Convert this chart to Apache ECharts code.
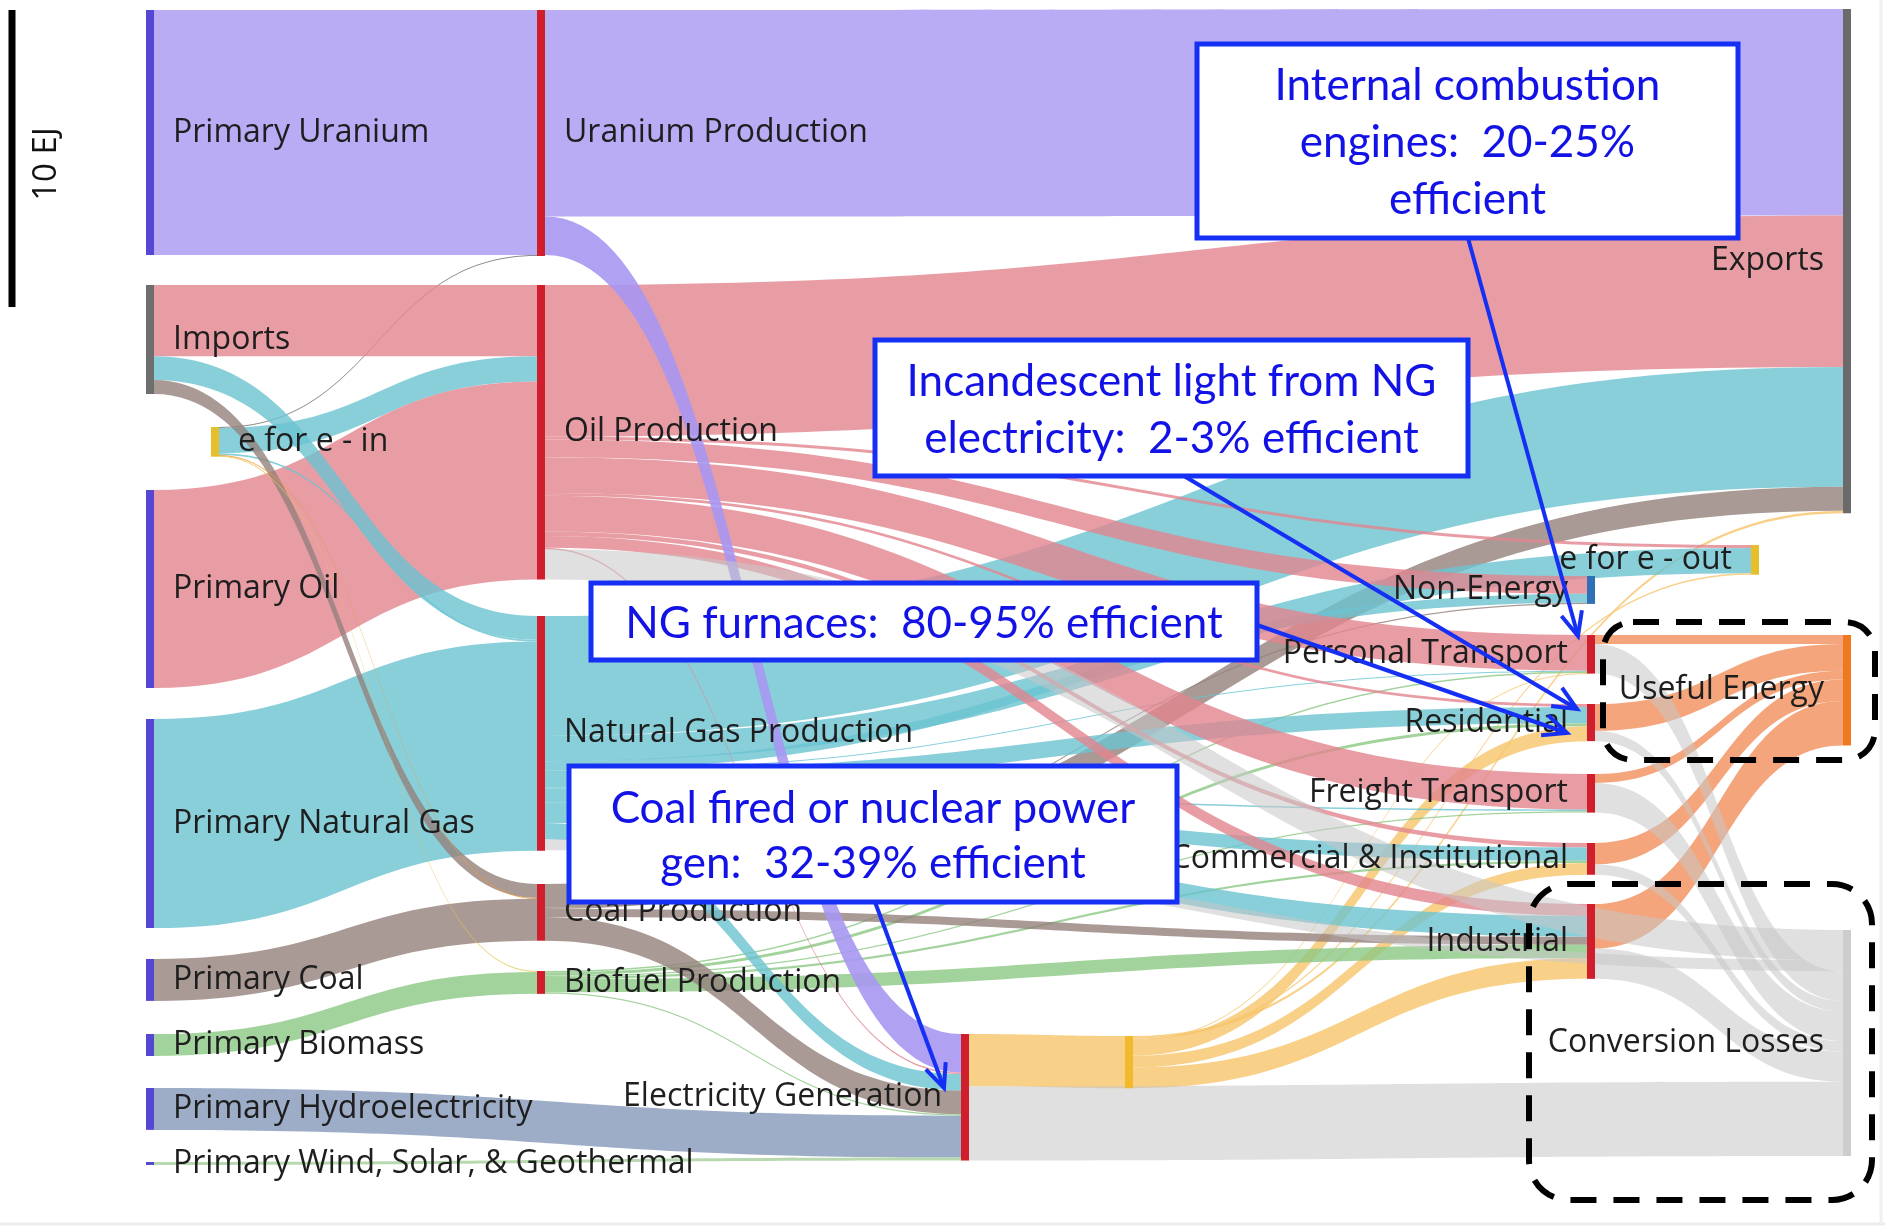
<!DOCTYPE html>
<html>
<head>
<meta charset="utf-8">
<title>Energy flows</title>
<script src="https://cdn.jsdelivr.net/npm/echarts@6/dist/echarts.min.js"></script>
<style>
  html, body { margin: 0; padding: 0; background: #fff; }
  #main { width: 1885px; height: 1231px; }
</style>
</head>
<body>
<div id="main"></div>
<script>
// flows in EJ
const nodeNames = [
  'Primary Uranium', 'Imports', 'e for e - in', 'Primary Oil', 'Primary Natural Gas',
  'Primary Coal', 'Primary Biomass', 'Primary Hydroelectricity', 'Primary Wind, Solar, & Geothermal',
  'Uranium Production', 'Oil Production', 'Natural Gas Production', 'Coal Production',
  'Biofuel Production', 'Electricity Generation', 'Electricity',
  'Exports', 'e for e - out', 'Non-Energy', 'Personal Transport', 'Residential',
  'Freight Transport', 'Commercial & Institutional', 'Industrial',
  'Useful Energy', 'Conversion Losses'
]

// grouped by target, each group listed top to bottom
const flowSource = [
  'Primary Uranium', 'e for e - in',
  'Imports', 'e for e - in', 'Primary Oil',
  'Imports', 'e for e - in', 'Primary Natural Gas',
  'Imports', 'e for e - in', 'Primary Coal',
  'e for e - in', 'Primary Biomass',
  'Uranium Production', 'Oil Production', 'Natural Gas Production', 'Coal Production', 'Electricity',
  'Oil Production', 'Natural Gas Production', 'Electricity',
  'Oil Production', 'Natural Gas Production', 'Coal Production',
  'Oil Production', 'Natural Gas Production', 'Biofuel Production', 'Electricity',
  'Oil Production', 'Natural Gas Production', 'Biofuel Production', 'Electricity',
  'Oil Production', 'Natural Gas Production', 'Biofuel Production',
  'Oil Production', 'Natural Gas Production', 'Biofuel Production', 'Electricity',
  'Oil Production', 'Natural Gas Production', 'Coal Production', 'Biofuel Production', 'Electricity',
  'Uranium Production', 'Oil Production', 'Natural Gas Production', 'Coal Production',
  'Biofuel Production', 'Primary Hydroelectricity', 'Primary Wind, Solar, & Geothermal',
  'Electricity Generation',
  'Personal Transport', 'Residential', 'Freight Transport', 'Commercial & Institutional', 'Industrial',
  'Oil Production', 'Natural Gas Production', 'Personal Transport', 'Residential',
  'Freight Transport', 'Commercial & Institutional', 'Industrial', 'Electricity Generation'
]
const flowTarget = [
  'Uranium Production', 'Uranium Production',
  'Oil Production', 'Oil Production', 'Oil Production',
  'Natural Gas Production', 'Natural Gas Production', 'Natural Gas Production',
  'Coal Production', 'Coal Production', 'Coal Production',
  'Biofuel Production', 'Biofuel Production',
  'Exports', 'Exports', 'Exports', 'Exports', 'Exports',
  'e for e - out', 'e for e - out', 'e for e - out',
  'Non-Energy', 'Non-Energy', 'Non-Energy',
  'Personal Transport', 'Personal Transport', 'Personal Transport', 'Personal Transport',
  'Residential', 'Residential', 'Residential', 'Residential',
  'Freight Transport', 'Freight Transport', 'Freight Transport',
  'Commercial & Institutional', 'Commercial & Institutional', 'Commercial & Institutional', 'Commercial & Institutional',
  'Industrial', 'Industrial', 'Industrial', 'Industrial', 'Industrial',
  'Electricity Generation', 'Electricity Generation', 'Electricity Generation', 'Electricity Generation',
  'Electricity Generation', 'Electricity Generation', 'Electricity Generation',
  'Electricity',
  'Useful Energy', 'Useful Energy', 'Useful Energy', 'Useful Energy', 'Useful Energy',
  'Conversion Losses', 'Conversion Losses', 'Conversion Losses', 'Conversion Losses',
  'Conversion Losses', 'Conversion Losses', 'Conversion Losses', 'Conversion Losses'
]
const flowEJ = [
  8.25, 0.03,
  2.4, 0.85, 6.67,
  0.8, 0.06, 7.04,
  0.47, 0.03, 1.41,
  0.03, 0.74,
  6.95, 5.1, 4.04, 0.8, 0.09,
  0.1, 0.85, 0.05,
  0.6, 0.3, 0.04,
  1.2, 0.03, 0.05, 0.02,
  0.1, 0.55, 0.1, 0.5,
  1.2, 0.05, 0.05,
  0.15, 0.45, 0.07, 0.4,
  0.4, 0.7, 0.27, 0.45, 0.7,
  1.3, 0.05, 0.55, 0.8, 0.05, 1.41, 0.1,
  1.76,
  0.3, 0.9, 0.3, 0.72, 1.5,
  1.02, 0.37, 1.0, 0.35, 1.0, 0.35, 1.02, 2.5
]

const scaleBarEJ = 10
const scaleBarLabel = '10 EJ'

// layout: pixel position of each node's top-left corner
const VIEW_W = 1885, VIEW_H = 1231, PX_PER_EJ = 29.7
const nodeXY = {
  'Primary Uranium': [146, 10],
  'Imports': [146, 285],
  'e for e - in': [211, 427],
  'Primary Oil': [146, 490],
  'Primary Natural Gas': [146, 719],
  'Primary Coal': [146, 959],
  'Primary Biomass': [146, 1034],
  'Primary Hydroelectricity': [146, 1088],
  'Primary Wind, Solar, & Geothermal': [146, 1162],
  'Uranium Production': [537, 10],
  'Oil Production': [537, 285],
  'Natural Gas Production': [537, 616],
  'Coal Production': [537, 884],
  'Biofuel Production': [537, 971],
  'Electricity Generation': [961, 1034],
  'Electricity': [1125, 1036],
  'Exports': [1843, 9],
  'e for e - out': [1751, 545],
  'Non-Energy': [1587, 576],
  'Personal Transport': [1587, 635],
  'Residential': [1587, 704],
  'Freight Transport': [1587, 774],
  'Commercial & Institutional': [1587, 843],
  'Industrial': [1587, 904],
  'Useful Energy': [1843, 635],
  'Conversion Losses': [1843, 930]
}

const RED = '#d01e2c'
const nodeColor = {
  'Imports': '#6e6e6e', 'e for e - in': '#e6c02c', 'e for e - out': '#e6c02c',
  'Electricity': '#f2b92c', 'Exports': '#6a6a6a', 'Non-Energy': '#2f70b6',
  'Useful Energy': '#f07820', 'Conversion Losses': '#cdcdcd'
}
const leftLabel = ['Electricity Generation', 'Exports', 'e for e - out', 'Non-Energy',
  'Personal Transport', 'Residential', 'Freight Transport', 'Commercial & Institutional',
  'Industrial', 'Useful Energy', 'Conversion Losses']

const C = {
  uranium: '#a797f2', oil: '#e2848f', gas: '#6cc3d1', coal: '#93817c', bio: '#8cc883',
  hydro: '#8698b9', wind: '#a6cf9c', elec: '#f6c46a', useful: '#f28e5a', loss: '#c6c6c6'
}
function linkColor (s, t) {
  if (t === 'Conversion Losses') return C.loss
  if (t === 'Useful Energy') return C.useful
  if (s === 'e for e - in') {
    return { 'Uranium Production': '#6f6f6f', 'Coal Production': '#ee9a3a', 'Biofuel Production': '#e7c64a' }[t] || C.gas
  }
  if (s === 'Imports') return { 'Oil Production': C.oil, 'Natural Gas Production': C.gas }[t] || C.coal
  if (/Uranium/.test(s)) return C.uranium
  if (/Oil/.test(s)) return C.oil
  if (/Natural Gas/.test(s)) return C.gas
  if (/Coal/.test(s)) return C.coal
  if (/Bio/.test(s)) return C.bio
  if (/Hydro/.test(s)) return C.hydro
  if (/Wind/.test(s)) return C.wind
  return C.elec
}

const nodes = nodeNames.map(function (name, i) {
  const col = nodeColor[name] || (/^Primary/.test(name) ? '#5646d4' : RED)
  return {
    name: name,
    depth: i,
    localX: nodeXY[name][0] / VIEW_W,
    localY: nodeXY[name][1] / VIEW_H,
    itemStyle: { color: col, borderWidth: 0 },
    label: {
      show: name !== 'Electricity',
      position: leftLabel.indexOf(name) >= 0 ? 'left' : 'right'
    }
  }
})
// invisible node that fixes the px-per-EJ scale of the whole diagram
nodes.push({
  name: 'scale', depth: nodeNames.length, value: VIEW_H / PX_PER_EJ,
  localX: 0, localY: 0, itemStyle: { opacity: 0 }, label: { show: false }
})

const links = flowEJ.map(function (v, i) {
  const s = flowSource[i], t = flowTarget[i]
  let op = 0.8
  if (t === 'Conversion Losses') op = 0.55
  if (s === 'Uranium Production' && t === 'Electricity Generation') op = 0.9
  return {
    source: s, target: t, value: v,
    lineStyle: { color: linkColor(s, t), opacity: op }
  }
})

const BLUE = '#1530f4'
const TEXT_BLUE = '#1212e6'

function callout (x, y, w, h, text, lh) {
  return [
    { type: 'rect', z: 100, shape: { x: x, y: y, width: w, height: h },
      style: { fill: '#fff', stroke: BLUE, lineWidth: 5 } },
    { type: 'text', z: 101, x: x + w / 2, y: y + h / 2 + 2,
      style: { text: text, fill: TEXT_BLUE, fontSize: 44, fontFamily: 'Lato',
        lineHeight: lh, align: 'center', verticalAlign: 'middle' } }
  ]
}

function arrow (x1, y1, x2, y2) {
  const a = Math.atan2(y2 - y1, x2 - x1)
  const L = 26, w = 0.42
  return [
    { type: 'line', z: 102, shape: { x1: x1, y1: y1, x2: x2, y2: y2 },
      style: { stroke: BLUE, lineWidth: 4 } },
    { type: 'polyline', z: 102,
      shape: { points: [
        [x2 - L * Math.cos(a - w), y2 - L * Math.sin(a - w)],
        [x2, y2],
        [x2 - L * Math.cos(a + w), y2 - L * Math.sin(a + w)]
      ] },
      style: { stroke: BLUE, lineWidth: 4, fill: null } }
  ]
}

function dashedBox (x, y, w, h, r) {
  return { type: 'rect', z: 99, shape: { x: x, y: y, width: w, height: h, r: r },
    style: { fill: null, stroke: '#000', lineWidth: 6, lineDash: [26, 17] } }
}

const graphics = [].concat(
  [
    { type: 'line', z: 50, shape: { x1: 12, y1: 10, x2: 12, y2: 10 + scaleBarEJ * PX_PER_EJ },
      style: { stroke: '#000', lineWidth: 7 } },
    { type: 'text', z: 50, x: 47, y: 164, rotation: Math.PI / 2,
      style: { text: scaleBarLabel, fill: '#111', fontSize: 33, fontFamily: 'Open Sans',
        align: 'center', verticalAlign: 'middle' } },
    { type: 'line', z: 1, shape: { x1: 0, y1: 1224, x2: 1885, y2: 1224 },
      style: { stroke: '#ececec', lineWidth: 3 } },
    { type: 'line', z: 1, shape: { x1: 1881, y1: 0, x2: 1881, y2: 1224 },
      style: { stroke: '#f0f0f0', lineWidth: 3 } }
  ],
  dashedBox(1603, 622, 272, 138, 30),
  dashedBox(1529, 884, 343, 316, 40),
  arrow(1468, 238, 1578, 636),
  arrow(1184, 476, 1577, 709),
  arrow(1257, 625, 1567, 733),
  arrow(875, 902, 944, 1088),
  callout(1197, 44, 541, 194, 'Internal combustion\nengines:  20-25%\nefficient', 57),
  callout(875, 340, 593, 136, 'Incandescent light from NG\nelectricity:  2-3% efficient', 57),
  callout(591, 583, 666, 77, 'NG furnaces:  80-95% efficient', 50),
  callout(569, 766, 608, 136, 'Coal fired or nuclear power\ngen:  32-39% efficient', 55)
)

const chart = echarts.init(document.getElementById('main'))
chart.setOption({
  animation: false,
  backgroundColor: '#fff',
  series: [{
    type: 'sankey',
    left: 0, top: 0, right: 0, bottom: 0,
    nodeWidth: 8,
    nodeGap: 0,
    layoutIterations: 0,
    nodeAlign: 'left',
    draggable: false,
    emphasis: { disabled: true },
    label: { fontFamily: 'Open Sans', fontSize: 32, color: '#1e1e1e', distance: 19 },
    lineStyle: { curveness: 0.5 },
    data: nodes,
    links: links
  }],
  graphic: graphics
})
</script>
</body>
</html>
